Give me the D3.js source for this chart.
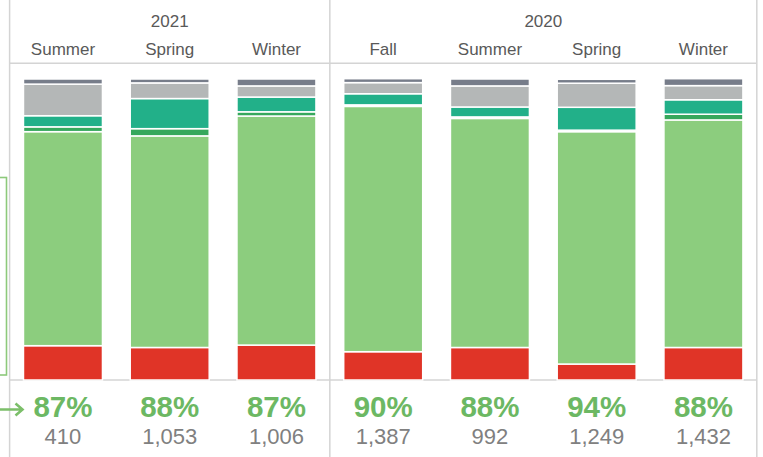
<!DOCTYPE html>
<html>
<head>
<meta charset="utf-8">
<script src="https://cdn.jsdelivr.net/npm/d3@7"></script>
<style>
  body { margin: 0; background: #fff; }
  svg { display: block; font-family: "Liberation Sans", Arial, sans-serif; }
</style>
</head>
<body>
<div id="chart"></div>
<script>
// data (share of responses, %)
const years   = ["2021", "2021", "2021", "2020", "2020", "2020", "2020"];
const seasons = ["Summer", "Spring", "Winter", "Fall", "Summer", "Spring", "Winter"];
const red        = [11.4, 10.8, 11.6, 9.4, 10.8, 5.3, 10.8];
const lightGreen = [71.1, 70.3, 76.1, 81.5, 76.1, 77.2, 75.6];
const darkGreen  = [1.6, 2.4, 1.4, 0.5, 0.5, 0.5, 1.9];
const teal       = [3.7, 10.0, 4.9, 3.7, 3.3, 7.6, 4.8];
const lightGray  = [10.5, 5.2, 3.7, 3.7, 7.0, 8.0, 4.7];
const darkGray   = [1.7, 1.3, 2.3, 1.3, 2.3, 1.3, 2.3];
const pctLabels  = ["87%", "88%", "87%", "90%", "88%", "94%", "88%"];
const counts     = [410, 1053, 1006, 1387, 992, 1249, 1432];

const keys = ["red", "lightGreen", "darkGreen", "teal", "lightGray", "darkGray"];
const colors = {
  red: "#e03427", lightGreen: "#8ccd7e", darkGreen: "#36a85c",
  teal: "#22b089", lightGray: "#b4b7b7", darkGray: "#777d8a"
};

const W = 763, H = 457;
const rows = seasons.map((s, i) => ({
  id: years[i] + "-" + s, year: years[i], season: s,
  red: red[i], lightGreen: lightGreen[i], darkGreen: darkGreen[i],
  teal: teal[i], lightGray: lightGray[i], darkGray: darkGray[i],
  pct: pctLabels[i], n: counts[i]
}));

const svg = d3.select("#chart").append("svg")
  .attr("width", W).attr("height", H);

const padL = 9.6, padR = 756.8, barTop = 79, barBottom = 380;

const x = d3.scaleBand()
  .domain(rows.map(d => d.id))
  .range([padL, padR])
  .paddingInner(0.26)
  .paddingOuter(0.13);

const y = d3.scaleLinear().domain([0, 100]).range([barBottom, barTop]);

const gridColor = "#d4d4d4";

// frame lines
const grid = svg.append("g").attr("stroke", gridColor).attr("stroke-width", 1.5);
grid.append("line").attr("x1", padL).attr("x2", padR).attr("y1", 63.3).attr("y2", 63.3);
grid.append("line").attr("x1", padL).attr("x2", padR).attr("y1", barBottom).attr("y2", barBottom);
const sepX = (x(rows[2].id) + x.bandwidth() + x(rows[3].id)) / 2;
[padL, sepX, padR].forEach(v => {
  grid.append("line").attr("x1", v).attr("x2", v).attr("y1", 0).attr("y2", H);
});

// partially visible box and arrow at the left edge
svg.append("rect")
  .attr("x", -20).attr("y", 177.5).attr("width", 26.5).attr("height", 197.5)
  .attr("fill", "#fff").attr("stroke", "#8dc97b").attr("stroke-width", 1.6);
svg.append("path")
  .attr("d", "M0,409.5 L21,409.5 M15.5,403.5 L22.5,409.5 L15.5,415.5")
  .attr("fill", "none").attr("stroke", "#7cbf6a").attr("stroke-width", 2.6);

// stacked bars
const stack = d3.stack().keys(keys);
const series = stack(rows);

svg.append("g").selectAll("g")
  .data(series).enter()
  .append("g")
  .attr("fill", d => colors[d.key])
  .selectAll("rect")
  .data(d => d).enter()
  .append("rect")
  .attr("x", d => x(d.data.id))
  .attr("width", x.bandwidth())
  .attr("y", d => y(d[1]))
  .attr("height", d => Math.max(0, y(d[0]) - y(d[1])))
  .attr("stroke", "#fff")
  .attr("stroke-width", 1.5);

// headers
const yearGroups = d3.groups(rows, d => d.year);
svg.append("g").selectAll("text")
  .data(yearGroups).enter()
  .append("text")
  .attr("x", g => (x(g[1][0].id) + x(g[1][g[1].length - 1].id) + x.bandwidth()) / 2)
  .attr("y", 27.3)
  .attr("text-anchor", "middle")
  .attr("font-size", 17)
  .attr("fill", "#595959")
  .text(g => g[0]);

svg.append("g").selectAll("text")
  .data(rows).enter()
  .append("text")
  .attr("x", d => x(d.id) + x.bandwidth() / 2)
  .attr("y", 55)
  .attr("text-anchor", "middle")
  .attr("font-size", 17)
  .attr("fill", "#595959")
  .text(d => d.season);

// bottom labels
svg.append("g").selectAll("text")
  .data(rows).enter()
  .append("text")
  .attr("x", d => x(d.id) + x.bandwidth() / 2)
  .attr("y", 417.3)
  .attr("text-anchor", "middle")
  .attr("font-size", 29.5)
  .attr("font-weight", "bold")
  .attr("fill", "#6cb863")
  .text(d => d.pct);

svg.append("g").selectAll("text")
  .data(rows).enter()
  .append("text")
  .attr("x", d => x(d.id) + x.bandwidth() / 2)
  .attr("y", 444)
  .attr("text-anchor", "middle")
  .attr("font-size", 22)
  .attr("fill", "#808080")
  .text(d => d3.format(",")(d.n));
</script>
</body>
</html>
